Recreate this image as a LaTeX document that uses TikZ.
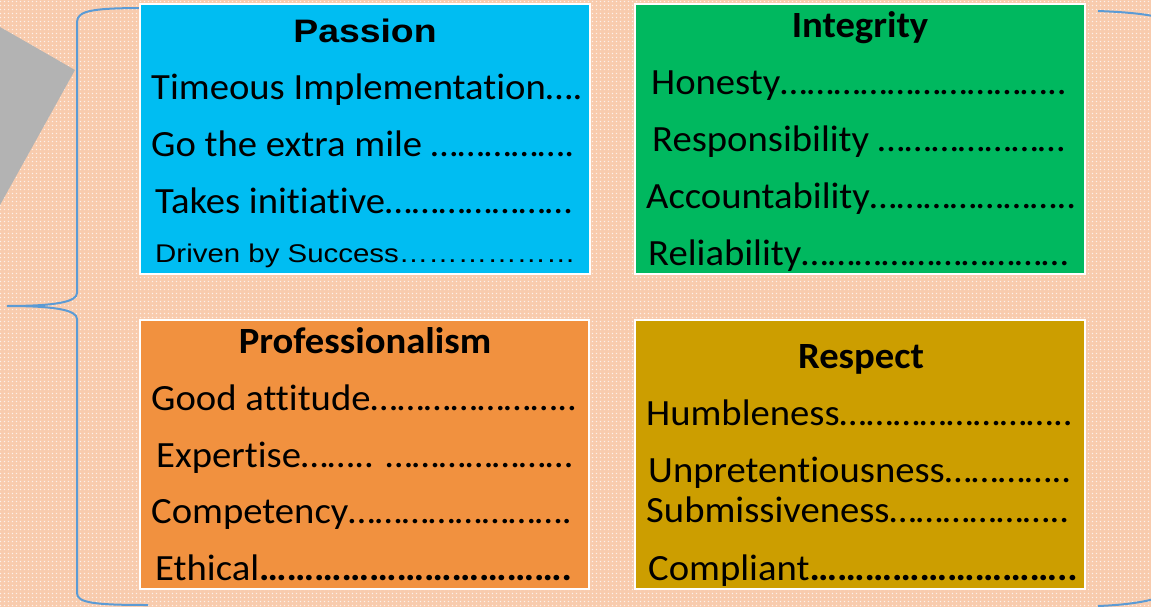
\documentclass[tikz,border=0pt]{standalone}
\usepackage{fontspec}
\setmainfont[FakeStretch=1.045, Ligatures=NoCommon]{Carlito}
\newfontfamily\arialw[FakeStretch=1.15]{Liberation Sans}
\usetikzlibrary{patterns.meta}
\definecolor{peach}{HTML}{F8CBAD}
\definecolor{cyanbox}{HTML}{00BDF2}
\definecolor{greenbox}{HTML}{00B85F}
\definecolor{orangebox}{HTML}{F1913F}
\definecolor{goldbox}{HTML}{CC9E00}
\definecolor{bracecol}{HTML}{5B9BD5}
\definecolor{greyshape}{HTML}{B3B3B3}
\newcommand\dts{…}
\tikzdeclarepattern{name=wdots, type=uncolored,
  bottom left={(0pt,0pt)}, top right={(4pt,4pt)}, tile size={(4pt,4pt)},
  code={\fill (1pt,1pt) rectangle (2.6pt,2.6pt);}}
\tikzset{
  valbox/.style={draw=white, line width=2pt, rectangle},
  txt/.style={inner sep=0pt, anchor=base west, font=\fontsize{37}{44}\selectfont},
  ttl/.style={inner sep=0pt, anchor=base, font=\fontsize{37}{44}\selectfont\bfseries},
  brace/.style={draw=bracecol, line width=2pt}
}
\begin{document}
\begin{tikzpicture}[x=1pt,y=-1pt]
\useasboundingbox (0,0) rectangle (1151,607);
\fill[peach] (0,0) rectangle (1151,607);
\fill[pattern={wdots}, pattern color=white, opacity=0.75] (0,0) rectangle (1151,607);
% grey partial arrow
\fill[greyshape] (0,27) -- (75,70) -- (0,205) -- cycle;
% braces
\begin{scope}
\clip (0,0) rectangle (1151,607);
\draw[brace] (148,8) .. controls (95,8) and (77,10) .. (77,22) -- (77,293)
  .. controls (77,302) and (55,306) .. (7,306)
  .. controls (55,306) and (77,310) .. (77,319) -- (77,593)
  .. controls (77,603) and (95,605) .. (148,605);
\draw[brace] (1098,11) .. controls (1150,13) and (1185,18) .. (1190,40) -- (1190,570)
  .. controls (1185,595) and (1150,604) .. (1098,606);
\end{scope}
% boxes
\node[valbox, fill=cyanbox, minimum width=450pt, minimum height=269pt] (passion) at (364.5,139) {};
\node[valbox, fill=greenbox, minimum width=450pt, minimum height=269pt] (integrity) at (860,139) {};
\node[valbox, fill=orangebox, minimum width=449pt, minimum height=269pt] (prof) at (364,454) {};
\node[valbox, fill=goldbox, minimum width=450pt, minimum height=269pt] (respect) at (860,454) {};
% Passion
\node[ttl, font=\fontsize{32.5}{40}\selectfont\arialw\bfseries] (t1) at (365,43) {Passion};
\node[txt] (p1) at (151,100) {Timeous Implementation\dts.};
\node[txt] (p2) at (151,157) {Go the extra mile \dts\dts\dts\dts\dts.};
\node[txt] (p3) at (155,213) {Takes initiative\dts\dts\dts\dts\dts\dts\dts};
\node[txt, font=\fontsize{25.6}{32}\selectfont\arialw] (p4) at (155,262) {Driven by Success\dts\dts\dts\dts\dts\dts};
% Integrity
\node[ttl] (t2) at (860,38) {Integrity};
\node[txt] (i1) at (651,95) {Honesty\dts\dts\dts\dts\dts\dts\dts\dts\dts\dts..};
\node[txt] (i2) at (652,152) {Responsibility \dts\dts\dts\dts\dts\dts\dts};
\node[txt] (i3) at (646,208) {Accountability\dts\dts\dts\dts\dts\dts\dts..};
\node[txt] (i4) at (648,265) {Reliability\dts\dts\dts\dts\dts\dts\dts\dts\dts\dts};
% Professionalism
\node[ttl] (t3) at (365,353) {Professionalism};
\node[txt] (r1) at (151,410) {Good attitude\dts\dts\dts\dts\dts\dts\dts..};
\node[txt] (r2) at (156,467) {Expertise\dts\dts.. \dts\dts\dts\dts\dts\dts\dts};
\node[txt] (r3) at (151,523) {Competency\dts\dts\dts\dts\dts\dts\dts\dts.};
\node[txt] (r4) at (155,580) {Ethical\textbf{\dts\dts\dts\dts\dts\dts\dts\dts\dts\dts\dts.}};
% Respect
\node[ttl] (t4) at (861,368) {Respect};
\node[txt] (s1) at (646,425) {Humbleness\dts\dts\dts\dts\dts\dts\dts\dts..};
\node[txt] (s2) at (648,482) {Unpretentiousness\dts\dts\dts\dts..};
\node[txt] (s3) at (646,522) {Submissiveness\dts\dts\dts\dts\dts\dts..};
\node[txt] (s4) at (648,580) {Compliant\textbf{\dts\dts\dts\dts\dts\dts\dts\dts\dts..}};
\end{tikzpicture}
\end{document}
